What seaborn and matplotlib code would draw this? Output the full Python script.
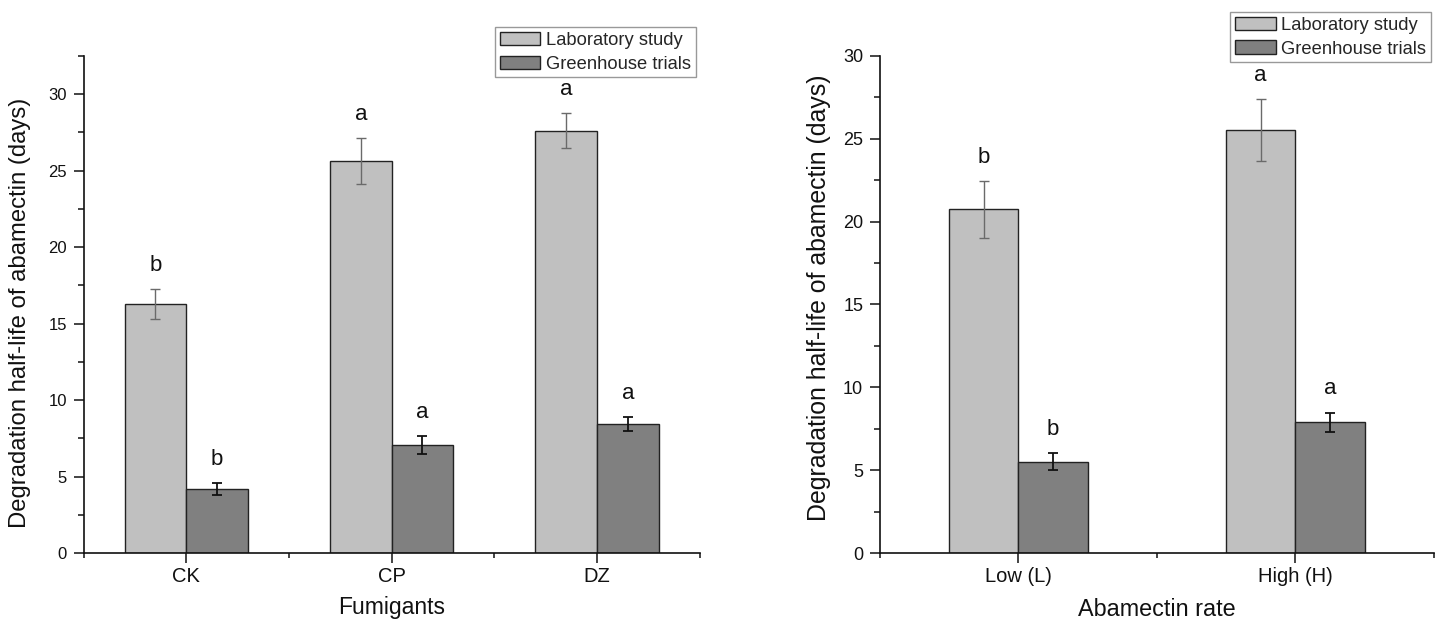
import numpy as np
import pandas as pd
import matplotlib
matplotlib.use("Agg")
import matplotlib.pyplot as plt
from matplotlib.ticker import MultipleLocator, FixedLocator
from matplotlib.patches import Patch
from matplotlib.container import BarContainer
import seaborn as sns

# ---------------- data ----------------
series = ["Laboratory study", "Greenhouse trials"]

fumigants = ["CK", "CP", "DZ"]
fum_lab = [16.3, 25.65, 27.6]
fum_lab_err = [0.98, 1.5, 1.15]
fum_gh = [4.17, 7.07, 8.42]
fum_gh_err = [0.38, 0.6, 0.47]
fum_lab_letters = ["b", "a", "a"]
fum_gh_letters = ["b", "a", "a"]

rates = ["Low (L)", "High (H)"]
rate_lab = [20.75, 25.55]
rate_lab_err = [1.72, 1.86]
rate_gh = [5.52, 7.88]
rate_gh_err = [0.5, 0.6]
rate_lab_letters = ["b", "a"]
rate_gh_letters = ["b", "a"]

ylabel = "Degradation half-life of abamectin (days)"

# ---------------- style ----------------
sns.set_style("ticks")
plt.rcParams["font.family"] = ["Liberation Sans", "DejaVu Sans"]

colors = {"Laboratory study": "#c0c0c0", "Greenhouse trials": "#808080"}
err_colors = ["#6a6a6a", "#111111"]
err_lw = [1.0, 1.3]

fig = plt.figure(figsize=(14.4, 6.19), dpi=100)
ax1 = fig.add_axes([0.058, 0.1066, 0.428, 0.803])
ax2 = fig.add_axes([0.611, 0.1066, 0.3847, 0.803])


def panel(ax, cats, lab, lab_err, gh, gh_err, lab_let, gh_let, width, ymax,
          xlabel, leg_anchor, ytick_size, ylab_size, xlab_size, xlab_pad,
          ylab_coords):
    df = pd.DataFrame({
        "cat": cats * 2,
        "series": [series[0]] * len(cats) + [series[1]] * len(cats),
        "value": lab + gh,
    })
    sns.barplot(data=df, x="cat", y="value", hue="series", order=cats,
                hue_order=series, palette=colors, width=width, errorbar=None,
                edgecolor="#222222", linewidth=1.0, legend=False, ax=ax)
    errs = [lab_err, gh_err]
    lets = [lab_let, gh_let]
    bar_conts = [c for c in ax.containers if isinstance(c, BarContainer)]
    for i, cont in enumerate(bar_conts):
        xs = [p.get_x() + p.get_width() / 2 for p in cont.patches]
        hs = [p.get_height() for p in cont.patches]
        ax.errorbar(xs, hs, yerr=errs[i], fmt="none", ecolor=err_colors[i],
                    elinewidth=err_lw[i], capsize=3.6, capthick=err_lw[i],
                    zorder=5)
        for x, h, e, t in zip(xs, hs, errs[i], lets[i]):
            ax.annotate(t, (x, h + e), xytext=(0, 13),
                        textcoords="offset points", ha="center",
                        va="baseline", fontsize=16, color="#111111",
                        zorder=6)
    ax.set_xlim(-0.5, len(cats) - 0.5)
    ax.set_ylim(0, ymax)
    ax.yaxis.set_major_locator(MultipleLocator(5))
    ax.yaxis.set_minor_locator(MultipleLocator(2.5))
    ax.xaxis.set_minor_locator(FixedLocator(np.arange(-0.5, len(cats), 1.0)))
    ax.tick_params(axis="y", which="major", length=7, width=1.1,
                   labelsize=ytick_size, pad=5, colors="#111111")
    ax.tick_params(axis="y", which="minor", length=4, width=1.1,
                   colors="#111111")
    ax.tick_params(axis="x", which="major", length=7, width=1.1,
                   labelsize=14.5, pad=3, colors="#111111")
    ax.tick_params(axis="x", which="minor", length=3.5, width=1.1,
                   colors="#111111")
    for s in ["top", "right"]:
        ax.spines[s].set_visible(False)
    for s in ["left", "bottom"]:
        ax.spines[s].set_linewidth(1.2)
        ax.spines[s].set_color("#111111")
    ax.set_xlabel(xlabel, fontsize=xlab_size, labelpad=xlab_pad,
                  color="#111111")
    ax.set_ylabel(ylabel, fontsize=ylab_size, color="#111111")
    ax.yaxis.set_label_coords(*ylab_coords)
    handles = [Patch(facecolor=colors[s], edgecolor="#222222", linewidth=1.0,
                     label=s) for s in series]
    leg = ax.legend(handles=handles, loc="upper right",
                    bbox_to_anchor=leg_anchor, borderaxespad=0,
                    fontsize=13.2, fancybox=False, framealpha=1,
                    edgecolor="#999999", handlelength=2.2,
                    handleheight=0.75, handletextpad=0.3, labelspacing=0.36,
                    borderpad=0.26)
    leg.get_frame().set_linewidth(1.0)
    leg.set_zorder(3)


panel(ax1, fumigants, fum_lab, fum_lab_err, fum_gh, fum_gh_err,
      fum_lab_letters, fum_gh_letters, 0.6, 32.5, "Fumigants",
      (0.993, 1.058), 12, 17.2, 16.5, 7, (-0.086, 0.483))
panel(ax2, rates, rate_lab, rate_lab_err, rate_gh, rate_gh_err,
      rate_lab_letters, rate_gh_letters, 0.5, 30, "Abamectin rate",
      (0.9946, 1.0885), 13, 17.9, 16.8, 9, (-0.088, 0.513))

fig.savefig("out.png", dpi=100)
